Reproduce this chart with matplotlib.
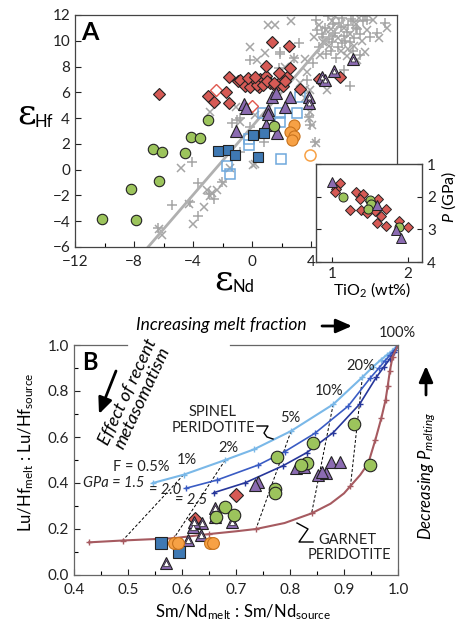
import matplotlib
matplotlib.use('Agg')
import matplotlib.pyplot as plt
from matplotlib.lines import Line2D
from matplotlib.patches import FancyArrowPatch
from matplotlib.ticker import MultipleLocator

plt.rcParams['font.family'] = ['Lato', 'DejaVu Sans']
plt.rcParams['mathtext.fontset'] = 'custom'
plt.rcParams['mathtext.rm'] = 'Lato'
plt.rcParams['mathtext.it'] = 'Lato:italic'
plt.rcParams['mathtext.bf'] = 'Lato:bold'

W, H = 472, 625


def fp(x, y):
    # figure pixel (top-left origin) -> figure fraction
    return (x / W, 1 - y / H)


# ---------------- panel A data: eps Nd vs eps Hf ----------------
red_x = [-6.3, -3.0, -2.6, -1.8, -1.55, -1.6, -0.95, -0.8, -0.47, 0.09, 0.54, 0.95, 1.22,
         1.9, 2.35, -0.14, 0.43, 1.63, 2.07, 3.25, 0.95, 2.58, 1.33, 2.46, 4.5, 5.97,
         0.3, 0.7, 1.0, 1.5, -0.3, 2.2, 1.8, 0.2]
red_y = [5.9, 5.75, 5.25, 6.0, 5.2, 7.2, 6.9, 6.96, 6.5, 6.75, 7.0, 7.27, 6.7,
         6.83, 7.22, 6.4, 6.4, 6.4, 6.5, 6.24, 8.05, 7.87, 9.93, 9.62, 7.05, 7.22,
         6.6, 6.55, 6.9, 6.7, 7.1, 6.9, 7.5, 7.2]
red_open_x = [-2.45, 0.0]
red_open_y = [6.15, 4.95]
green_x = [-3.0, -4.15, -3.57, -6.72, -6.1, -4.54, -10.15, -7.9, -8.2, -6.3, 1.45]
green_y = [3.88, 2.55, 2.47, 1.6, 1.4, 1.32, -3.8, -3.9, -1.5, -0.9, 3.4]
purple_x = [-1.09, -0.59, -0.4, 0.95, 1.1, 1.33, 1.6, 2.58, 2.22, 1.67, 1.05]
purple_y = [2.98, 5.1, 4.77, 3.47, 4.6, 5.6, 5.93, 5.6, 4.9, 2.83, 4.35]
purple_w_x = [6.83, 5.51, 4.73, 4.95, 3.84, 3.82]
purple_w_y = [8.59, 7.68, 7.2, 6.96, 5.67, 5.15]
blue_x = [-2.3, -1.66, -1.2, 0.06, 0.78, 0.42]
blue_y = [1.48, 1.55, 1.12, 2.66, 2.86, 0.98]
blue_open_x = [-1.74, -1.53, -0.24, 1.92, 0.7, 1.9, 3.05, 3.25, 1.9, -0.25]
blue_open_y = [0.3, -0.35, 1.92, 0.84, 4.4, 4.38, 4.38, 5.67, 3.73, 2.4]
orange_x = [2.85, 2.58, 2.85, 2.69]
orange_y = [3.47, 2.95, 2.65, 2.3]
orange_open_x = [3.9]
orange_open_y = [1.1]

gray_x_x = [-6.3, -6.1, -4.85, -4.25, -4.0, -3.3, -3.07, -2.85, -2.7, -2.4, -1.95, -1.49,
            0.2, 0.02, -0.81, -1.08, -2.85, 0.2, 3.59, 3.93, 3.82, 4.04, 4.34, 3.25, 3.93,
            5.06, 3.7, 2.24, 3.59, -0.18, 0.88, 1.1, 1.56, 2.64, 7.1, 9.13, 0.32, 2.8, 3.59,
            4.5, 5.0, 5.4, 5.8, 6.2, 6.6, 7.0, 7.4, 5.2, 6.0, 4.8, 6.9, 7.8, 8.2, 5.6, 4.2,
            7.6, 6.4, 8.6, 5.3, 6.5, 7.2, 4.6]
gray_x_y = [-4.6, -5.1, 0.1, -2.65, -4.25, -2.86, -1.6, -2.05, -1.8, -1.57, -1.0, 0.1,
            0.45, 0.35, 3.73, 4.9, 4.5, 4.25, 5.54, 4.5, 4.0, 3.47, 2.1, 6.7, 6.19,
            6.19, 7.6, 8.0, 8.56, 9.54, 9.03, 11.2, 11.2, 11.5, 8.5, 10.97, 8.51, 8.56, 6.24,
            11.2, 10.8, 11.5, 10.2, 11.0, 10.5, 11.3, 10.0, 9.6, 9.2, 9.9, 9.6, 10.8, 11.6, 11.9, 10.3,
            9.1, 8.8, 10.2, 10.9, 9.4, 11.8, 8.9]
gray_p_x = [-6.35, -5.45, -4.05, -3.64, -3.64, -2.9, -2.6, -2.06, -0.81, 0.77, -1.38, -1.04,
            -0.14, 3.82, 3.93, 4.27, -0.81, -0.14, 1.78, 3.7, 1.9, 3.14, 2.8, 4.1, 6.64, 6.19,
            8.45, 9.0, 7.77, 1.85, -4.2,
            4.3, 4.7, 5.1, 5.5, 5.9, 6.3, 6.7, 7.1, 7.5, 5.3, 6.1, 4.5, 6.8, 8.0, 7.3, 5.7,
            6.5, 4.9, 5.6, 6.0, 6.4, 6.9, 7.3, 5.2, 5.8, 6.2, 6.6, 7.0, 4.4, 5.0, 5.5,
            6.1, 6.8, 7.6, 4.8, 5.4]
gray_p_y = [-4.5, -2.73, 0.63, -1.05, -3.63, -1.9, -2.3, -0.92, 1.4, 2.18, 3.6, 3.86,
            3.34, 4.12, 3.47, 2.18, 3.99, 8.51, 7.87, 6.96, 9.16, 9.85, 8.64, 8.26, 6.5, 7.74,
            10.6, 11.36, 11.6, 8.95, -2.5,
            11.6, 10.5, 11.9, 10.4, 11.4, 10.0, 11.7, 10.9, 11.5, 9.2, 9.8, 9.5, 9.2, 10.3, 8.9, 8.7,
            11.2, 11.0, 10.6, 11.1, 10.7, 10.2, 10.5, 10.1, 9.5, 10.4, 9.9, 11.0, 10.8, 9.0, 11.3,
            11.8, 11.5, 11.9, 10.3, 9.9]
array_x = [-7.05, 6.2]
array_y = [-6.0, 11.6]

# inset: TiO2 vs P
in_red_x = [1.11, 1.05, 1.04, 1.32, 1.41, 1.37, 1.24, 1.39, 1.47, 1.57, 1.72, 1.65, 1.6,
            1.72, 1.88, 2.0, 1.5, 1.61]
in_red_y = [1.57, 1.75, 1.86, 1.86, 1.93, 2.08, 2.41, 2.41, 2.5, 2.45, 2.37, 2.6, 2.8,
            2.89, 2.76, 2.94, 2.14, 2.08]
in_green_x = [1.14, 1.5, 1.52, 1.48, 1.88]
in_green_y = [2.0, 2.1, 2.21, 2.39, 2.94]
in_purple_x = [1.0, 1.59, 1.85, 1.91]
in_purple_y = [1.54, 2.24, 3.01, 3.25]

# ---------------- panel B data: melting models ----------------
sp15_x = [0.546, 0.603, 0.68, 0.733, 0.802, 0.88, 0.934, 0.954, 0.968, 0.979, 0.988, 0.995, 1.0]
sp15_y = [0.40, 0.436, 0.50, 0.546, 0.626, 0.742, 0.86, 0.906, 0.935, 0.956, 0.972, 0.987, 1.0]
sp20_x = [0.607, 0.665, 0.741, 0.79, 0.846, 0.908, 0.948, 0.964, 0.976, 0.986, 0.994, 1.0]
sp20_y = [0.377, 0.413, 0.478, 0.536, 0.616, 0.735, 0.855, 0.898, 0.932, 0.958, 0.978, 1.0]
sp25_x = [0.659, 0.717, 0.787, 0.831, 0.88, 0.929, 0.96, 0.974, 0.985, 0.993, 1.0]
sp25_y = [0.358, 0.401, 0.475, 0.532, 0.619, 0.743, 0.86, 0.905, 0.94, 0.968, 1.0]
# garnet model: F-steps (markers) and the traced curve between them
gt_x = [0.428, 0.49, 0.585, 0.65, 0.737, 0.84, 0.912, 0.945, 0.958, 0.969, 0.977, 0.981,
        0.985, 0.99, 1.0]
gt_y = [0.142, 0.15, 0.16, 0.178, 0.20, 0.268, 0.387, 0.486, 0.587, 0.681, 0.761, 0.822,
        0.888, 0.949, 1.0]
gt_line_x = [0.428, 0.49, 0.585, 0.65, 0.70, 0.737, 0.79, 0.84, 0.875, 0.9, 0.912, 0.93,
             0.945, 0.958, 0.969, 0.977, 0.981, 0.985, 0.99, 1.0]
gt_line_y = [0.142, 0.15, 0.16, 0.178, 0.19, 0.20, 0.226, 0.268, 0.31, 0.355, 0.387, 0.435,
             0.486, 0.587, 0.681, 0.761, 0.822, 0.888, 0.949, 1.0]
# iso-F tie lines (spinel 1.5 GPa -> garnet), F = 1, 2, 5, 10, 20 %
tie_x0 = [0.603, 0.68, 0.802, 0.88, 0.934]
tie_y0 = [0.436, 0.50, 0.626, 0.742, 0.86]
tie_x1 = [0.49, 0.585, 0.737, 0.84, 0.912]
tie_y1 = [0.15, 0.16, 0.20, 0.268, 0.387]

b_green_x = [0.775, 0.843, 0.919, 0.832, 0.82, 0.948, 0.772, 0.772, 0.68, 0.696, 0.663]
b_green_y = [0.514, 0.573, 0.655, 0.488, 0.478, 0.478, 0.372, 0.355, 0.297, 0.26, 0.254]
b_purple_x = [0.741, 0.735, 0.811, 0.826, 0.851, 0.866, 0.875, 0.893, 0.86]
b_purple_y = [0.406, 0.391, 0.464, 0.471, 0.435, 0.442, 0.49, 0.493, 0.45]
b_purple_w_x = [0.571, 0.611, 0.62, 0.637, 0.635, 0.662, 0.662, 0.692, 0.623]
b_purple_w_y = [0.051, 0.152, 0.21, 0.225, 0.174, 0.29, 0.254, 0.232, 0.232]
b_red_x = [0.7, 0.624]
b_red_y = [0.35, 0.242]
b_blue_x = [0.561, 0.595]
b_blue_y = [0.138, 0.101]
b_orange_x = [0.586, 0.592, 0.652, 0.658]
b_orange_y = [0.138, 0.138, 0.138, 0.138]

RED = '#d65a55'
GREEN = '#9cc45c'
BLUE = '#3f79b3'
LBLUE = '#6fa8dc'
ORANGE = '#f7a145'
PURPLE = '#8b6bb1'
GRAY = '#a5a5a5'
EDGE = '#222222'
SPINE = '#444444'

fig = plt.figure(figsize=(4.72, 6.25), dpi=100)

# ---------------- panel A ----------------
axA = fig.add_axes([75 / W, 1 - 247 / H, 322 / W, 232 / H])
axA.plot(gray_x_x, gray_x_y, 'x', color=GRAY, ms=6, mew=1.1)
axA.plot(gray_p_x, gray_p_y, '+', color=GRAY, ms=7, mew=1.1)
axA.plot(array_x, array_y, color='#b0b0b0', lw=2)
axA.plot(blue_open_x, blue_open_y, 's', mfc='none', mec=LBLUE, ms=7, mew=1.1)
axA.plot(red_open_x, red_open_y, 'D', mfc='none', mec='#e0584f', ms=6, mew=1.0)
axA.plot(orange_open_x, orange_open_y, 'o', mfc='none', mec=ORANGE, ms=8, mew=1.1)
axA.plot(red_x, red_y, 'D', mfc=RED, mec=EDGE, ms=6.3, mew=0.8)
axA.plot(purple_x, purple_y, '^', mfc=PURPLE, mec=EDGE, ms=8, mew=0.8)
axA.plot(purple_w_x, purple_w_y, '^', mfc=PURPLE, mec=EDGE, ms=8, mew=0.8)
axA.plot(purple_w_x, purple_w_y, '^', mfc='white', mec=EDGE, ms=3.5, mew=0.5)
axA.plot(green_x, green_y, 'o', mfc=GREEN, mec=EDGE, ms=7.5, mew=0.8)
axA.plot(blue_x, blue_y, 's', mfc=BLUE, mec=EDGE, ms=7, mew=0.8)
axA.plot(orange_x, orange_y, 'o', mfc=ORANGE, mec='#c8721c', ms=8, mew=0.8)

axA.set_xlim(-12, 9.8)
axA.set_ylim(-6, 12)
axA.set_xticks([-12, -8, -4, 0, 4])
axA.xaxis.set_minor_locator(MultipleLocator(2))
axA.set_yticks(range(-6, 13, 2))
axA.tick_params(direction='in', length=4, width=0.8, labelsize=11, colors='#222222')
axA.tick_params(axis='x', pad=6)
axA.tick_params(which='minor', direction='in', length=3, width=0.8)
for s in axA.spines.values():
    s.set_color(SPINE)
    s.set_linewidth(0.9)

fig.text(*fp(90, 32), 'A', fontsize=18, fontweight='bold', ha='center', va='center')
fig.text(*fp(27, 113), 'ε', family='DejaVu Serif', fontsize=26, ha='center', va='center')
fig.text(*fp(44, 122), 'Hf', fontsize=12, ha='center', va='center')
fig.text(*fp(224, 279), 'ε', family='DejaVu Serif', fontsize=26, ha='center', va='center')
fig.text(*fp(243, 287), 'Nd', fontsize=12, ha='center', va='center')

# inset
axI = fig.add_axes([316 / W, 1 - 262 / H, 106 / W, 98 / H])
axI.set_facecolor('white')
axI.plot(in_red_x, in_red_y, 'D', mfc=RED, mec=EDGE, ms=5, mew=0.7)
axI.plot(in_green_x, in_green_y, 'o', mfc=GREEN, mec=EDGE, ms=6.5, mew=0.7)
axI.plot(in_purple_x, in_purple_y, '^', mfc=PURPLE, mec=EDGE, ms=6.5, mew=0.7)
axI.set_xlim(0.79, 2.19)
axI.set_ylim(4, 1)
axI.set_xticks([1, 2])
axI.set_yticks([1, 2, 3, 4])
axI.yaxis.tick_right()
axI.tick_params(direction='in', length=3.5, width=0.8, labelsize=11, colors='#222222',
                left=True, right=True)
for s in axI.spines.values():
    s.set_color(SPINE)
    s.set_linewidth(1.0)
fig.text(*fp(372, 290), 'TiO$_2$ (wt%)', fontsize=11.5, ha='center', va='center')
fig.text(*fp(449, 197), '$P$ (GPa)', fontsize=11.5, ha='center', va='center', rotation=90)

# ---------------- panel B ----------------
axB = fig.add_axes([74 / W, 1 - 575 / H, 324 / W, 230 / H])
for x0, y0, x1, y1 in zip(tie_x0, tie_y0, tie_x1, tie_y1):
    axB.plot([x0, x1], [y0, y1], color='k', lw=0.7, dashes=(3, 2))
axB.plot(sp15_x, sp15_y, '-', marker='+', color='#7ab8e8', lw=1.5, ms=5, mew=1)
axB.plot(sp20_x, sp20_y, '-', marker='+', color='#3a5cc4', lw=1.2, ms=5, mew=1)
axB.plot(sp25_x, sp25_y, '-', marker='+', color='#27379b', lw=1.2, ms=5, mew=1)
axB.plot(gt_line_x, gt_line_y, '-', color='#a65a60', lw=1.5)
axB.plot(gt_x, gt_y, '+', color='#a65a60', ms=5, mew=1)

axB.plot(b_red_x, b_red_y, 'D', mfc=RED, mec=EDGE, ms=7, mew=0.8)
axB.plot(b_purple_x, b_purple_y, '^', mfc=PURPLE, mec=EDGE, ms=9, mew=0.8)
axB.plot(b_purple_w_x, b_purple_w_y, '^', mfc=PURPLE, mec=EDGE, ms=9, mew=0.8)
axB.plot(b_purple_w_x, b_purple_w_y, '^', mfc='white', mec=EDGE, ms=4, mew=0.5)
axB.plot(b_green_x, b_green_y, 'o', mfc=GREEN, mec=EDGE, ms=9, mew=0.8)
axB.plot(b_blue_x, b_blue_y, 's', mfc=BLUE, mec=EDGE, ms=8, mew=0.8)
axB.plot(b_orange_x, b_orange_y, 'o', mfc=ORANGE, mec='#c8721c', ms=8.5, mew=0.8)

axB.set_xlim(0.4, 1.0)
axB.set_ylim(0, 1.0)
axB.set_xticks([0.4, 0.5, 0.6, 0.7, 0.8, 0.9, 1.0])
axB.set_yticks([0.0, 0.2, 0.4, 0.6, 0.8, 1.0])
axB.xaxis.set_minor_locator(MultipleLocator(0.05))
axB.yaxis.set_minor_locator(MultipleLocator(0.1))
axB.tick_params(direction='in', length=4, width=0.8, labelsize=11, colors='#222222')
axB.tick_params(axis='x', pad=6)
axB.tick_params(which='minor', direction='in', length=3, width=0.8)
for s in axB.spines.values():
    s.set_color('#666666')
    s.set_linewidth(0.9)
axB.spines['top'].set_visible(False)
for xa, xb in [(0, 0.164), (0.48, 1.0)]:
    axB.plot([xa, xb], [1, 1], color='#666666', lw=0.9, transform=axB.transAxes,
             clip_on=False)

fig.text(*fp(90, 363), 'B', fontsize=17, fontweight='bold', ha='center', va='center')
fig.text(*fp(26, 452), r'Lu/Hf$_{\rm melt}$ : Lu/Hf$_{\rm source}$', fontsize=12,
         rotation=90, ha='center', va='center')
fig.text(*fp(243, 612), r'Sm/Nd$_{\rm melt}$ : Sm/Nd$_{\rm source}$', fontsize=12,
         ha='center', va='center')

lab = dict(fontsize=10.5, ha='center', va='center', color='#222222')
fig.text(*fp(141, 467), 'F = 0.5%', **lab)
fig.text(*fp(187, 460), '1%', **lab)
fig.text(*fp(228, 448), '2%', **lab)
fig.text(*fp(290, 418), '5%', **lab)
fig.text(*fp(329, 391), '10%', **lab)
fig.text(*fp(361, 366), '20%', **lab)
fig.text(*fp(397, 333), '100%', **lab)
fig.text(*fp(114, 483), 'GPa = 1.5', style='italic', **lab)
fig.text(*fp(165, 490), '= 2.0', style='italic', **lab)
fig.text(*fp(191, 500), '= 2.5', style='italic', **lab)
fig.text(*fp(213, 412), 'SPINEL', **lab)
fig.text(*fp(213, 428), 'PERIDOTITE', **lab)
fig.text(*fp(347, 540), 'GARNET', **lab)
fig.text(*fp(349, 555), 'PERIDOTITE', **lab)

# squiggle connectors
for pts in ([(257, 426), (268, 426), (264, 433), (267, 437), (273, 439)],
            [(313, 542), (299, 542), (308, 529), (297, 523)]):
    xs = [fp(*p)[0] for p in pts]
    ys = [fp(*p)[1] for p in pts]
    fig.add_artist(Line2D(xs, ys, color='k', lw=1.0, transform=fig.transFigure))

fig.text(*fp(221, 325), 'Increasing melt fraction', fontsize=12.5, style='italic',
         ha='center', va='center')
fig.text(*fp(427, 476), r'Decreasing $P_{melting}$', fontsize=12, style='italic',
         ha='center', va='center', rotation=90)
fig.text(*fp(135, 395), 'Effect of recent\nmetasomatism', fontsize=13, style='italic',
         ha='center', va='center', rotation=65, linespacing=1.0)

arrow = dict(arrowstyle='-|>,head_width=0.35,head_length=0.8', mutation_scale=12,
             color='k', lw=2, shrinkA=0, shrinkB=0, transform=fig.transFigure)
fig.add_artist(FancyArrowPatch(fp(322, 326), fp(352, 326), **arrow))
fig.add_artist(FancyArrowPatch(fp(426, 395), fp(426, 366), **arrow))
fig.add_artist(FancyArrowPatch(fp(116, 371), fp(99, 414), **arrow))

fig.savefig('out.png', dpi=100)
